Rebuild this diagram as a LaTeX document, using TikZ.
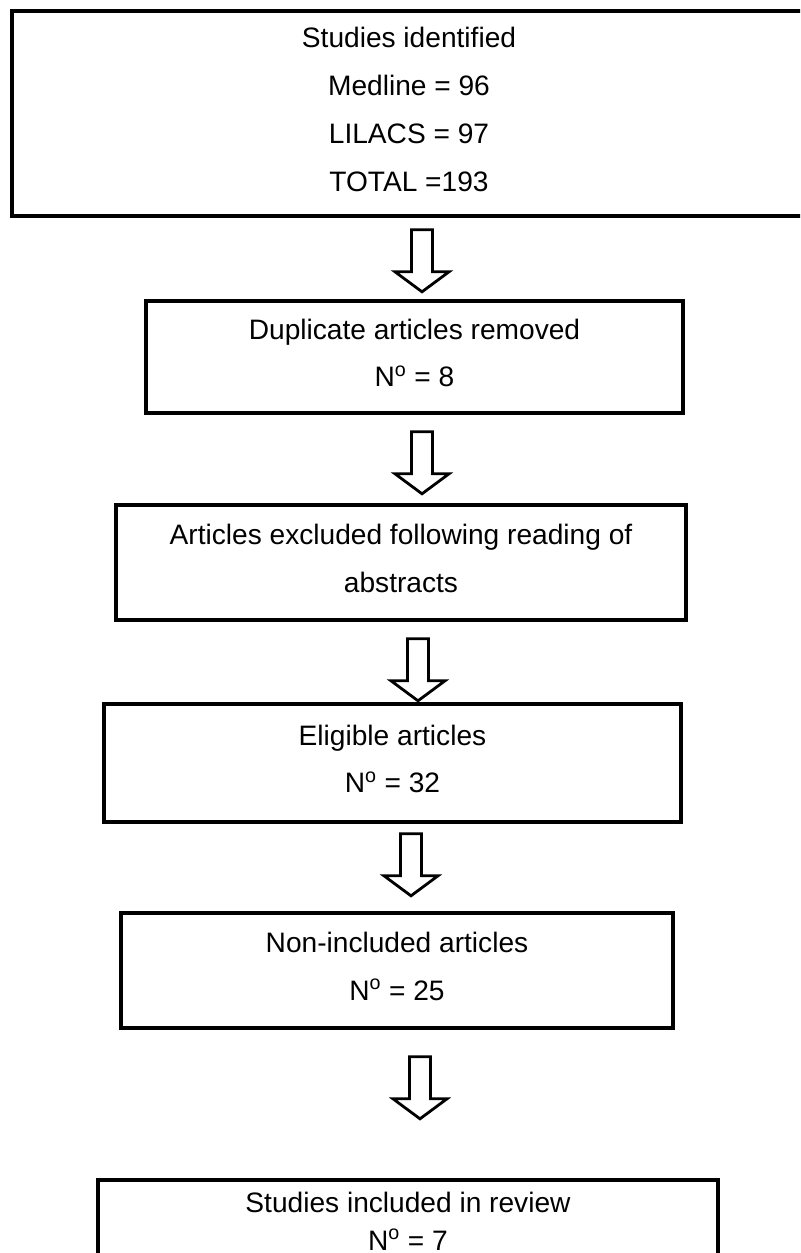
\documentclass[tikz,border=0pt]{standalone}
\usepackage{fontspec}
\setmainfont{Liberation Sans}
\usetikzlibrary{calc,fit}
\tikzset{
  box/.style={draw,line width=0.9mm,inner sep=0pt},
  lines/.style={align=center,inner sep=0pt,yshift=1mm,font=\fontsize{20}{34}\selectfont},
  hollow/.style={draw,line width=0.7mm,fill=white}
}
% block arrow under box #1, at x=#2, #3 below its edge
\newcommand{\flowarrow}[3]{\draw[hollow] ($(#1.south -| #2,0)+(-10.5,#3)$) -- ++(21,0) -- ++(0,42) -- ++(16.5,0) -- ++(-27,20) -- ++(-27,-20) -- ++(16.5,0) -- cycle;}

\begin{document}
\begin{tikzpicture}[x=0.25mm,y=-0.25mm]
\useasboundingbox (0,0) rectangle (800,1253);
\clip (0,0) rectangle (800,1253);
\node[box,fit={(12,11) (806,216)},label={[lines]center:{Studies identified\\Medline = 96\\LILACS = 97\\TOTAL =193}}] (ident) {};
\node[box,fit={(146,301) (683,413)},label={[lines]center:{Duplicate articles removed\\N\textsuperscript{o} = 8}}] (dupl) {};
\node[box,fit={(116,505) (686,620)},label={[lines]center:{Articles excluded following reading of\\abstracts}}] (abstr) {};
\node[box,fit={(104,704) (681,822)},label={[lines]center:{Eligible articles\\N\textsuperscript{o} = 32}}] (elig) {};
\node[box,fit={(121,913) (673,1028)},label={[lines]center:{Non-included articles\\N\textsuperscript{o} = 25}}] (nonincl) {};
\node[box,fit={(98,1180) (718,1282)},label={[lines,yshift=1.5mm,font=\fontsize{20}{27}\selectfont]center:{Studies included in review\\N\textsuperscript{o} = 7}}] (incl) {};
\flowarrow{ident}{422}{12}
\flowarrow{dupl}{422}{17}
\flowarrow{abstr}{418}{17}
\flowarrow{elig}{411}{10}
\flowarrow{nonincl}{420}{27}
\end{tikzpicture}
\end{document}
